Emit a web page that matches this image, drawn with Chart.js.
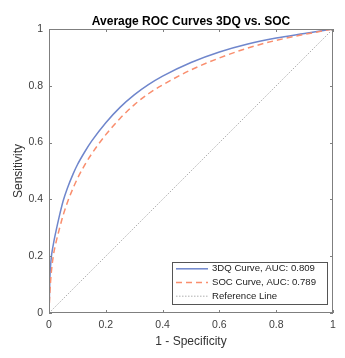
<!DOCTYPE html>
<html>
<head>
<meta charset="utf-8">
<script src="https://cdn.jsdelivr.net/npm/chart.js@4.4.1/dist/chart.umd.min.js"></script>
<style>
  html, body { margin: 0; padding: 0; background: #fff; }
  canvas { display: block; }
</style>
</head>
<body>
<canvas id="rocChart" width="345" height="358"></canvas>
<script>
// valores (1 - especificidade / sensibilidade)
const fpr = [0, 0.003, 0.007, 0.015, 0.025, 0.035, 0.05, 0.065, 0.085, 0.1, 0.125, 0.15, 0.2, 0.25, 0.3, 0.35, 0.4, 0.5, 0.6, 0.7, 0.8, 0.9, 1];
const tpr3DQ = [0, 0.12, 0.185, 0.24, 0.29, 0.335, 0.395, 0.44, 0.49, 0.522, 0.566, 0.605, 0.67, 0.724, 0.768, 0.804, 0.834, 0.882, 0.919, 0.947, 0.968, 0.984, 1];
const tprSOC = [0, 0.07, 0.13, 0.2, 0.25, 0.29, 0.345, 0.39, 0.44, 0.473, 0.52, 0.56, 0.628, 0.685, 0.733, 0.772, 0.803, 0.856, 0.898, 0.933, 0.96, 0.981, 1];
const refX = [0, 1];
const refY = [0, 1];
const axisTicks = [0, 0.2, 0.4, 0.6, 0.8, 1];
const tickLabels = ["0", "0.2", "0.4", "0.6", "0.8", "1"];
const seriesLabels = ["3DQ Curve, AUC: 0.809", "SOC Curve, AUC: 0.789", "Reference Line"];

const FONT = "'Liberation Sans', Arial, Helvetica, sans-serif";

function toPoints(xs, ys) {
  return xs.map((x, i) => ({ x: x, y: ys[i] }));
}

// caixa do eixo estilo MATLAB, com ticks para dentro
const boxPlugin = {
  id: "axisBox",
  afterDatasetsDraw(chart) {
    const { ctx, chartArea: a, scales } = chart;
    ctx.save();
    ctx.strokeStyle = "#7f7f7f";
    ctx.lineWidth = 1;
    ctx.strokeRect(a.left + 0.5, a.top + 0.5, a.right - a.left - 1, a.bottom - a.top - 1);
    ctx.beginPath();
    axisTicks.forEach((v) => {
      const px = Math.round(scales.x.getPixelForValue(v)) + 0.5;
      ctx.moveTo(px, a.bottom);
      ctx.lineTo(px, a.bottom - 3);
      ctx.moveTo(px, a.top);
      ctx.lineTo(px, a.top + 3);
      const py = Math.round(scales.y.getPixelForValue(v)) + 0.5;
      ctx.moveTo(a.left, py);
      ctx.lineTo(a.left + 3, py);
      ctx.moveTo(a.right, py);
      ctx.lineTo(a.right - 3, py);
    });
    ctx.stroke();
    ctx.restore();
  },
};

// legenda no canto inferior direito, dentro do gráfico
const legendPlugin = {
  id: "legendBox",
  afterDraw(chart) {
    const { ctx, chartArea: a } = chart;
    const sets = chart.data.datasets;
    ctx.save();
    ctx.font = `9.6px ${FONT}`;
    const textW = Math.max(...sets.map((d) => ctx.measureText(d.label).width));
    const w = Math.round(40 + textW + 11);
    const h = 42;
    const left = Math.round(a.right - 6 - w);
    const top = Math.round(a.bottom - 9 - h);

    ctx.fillStyle = "#fff";
    ctx.fillRect(left, top, w, h);
    ctx.strokeStyle = "#555";
    ctx.lineWidth = 1;
    ctx.strokeRect(left + 0.5, top + 0.5, w, h);

    sets.forEach((d, i) => {
      const y = top + 6.8 + i * 13.7;
      ctx.strokeStyle = d.borderColor;
      ctx.lineWidth = d.borderWidth;
      ctx.setLineDash(d.borderDash || []);
      ctx.beginPath();
      ctx.moveTo(left + 4, y);
      ctx.lineTo(left + 36, y);
      ctx.stroke();
      ctx.setLineDash([]);
      ctx.fillStyle = "#222";
      ctx.textBaseline = "middle";
      ctx.textAlign = "left";
      ctx.fillText(d.label, left + 40, y);
    });
    ctx.restore();
  },
};

function tickText(value) {
  const i = axisTicks.indexOf(value);
  return i >= 0 ? tickLabels[i] : "";
}

const ctx = document.getElementById("rocChart");

new Chart(ctx, {
  type: "scatter",
  data: {
    datasets: [
      {
        label: seriesLabels[0],
        data: toPoints(fpr, tpr3DQ),
        showLine: true,
        borderColor: "#6f86cc",
        borderWidth: 1.5,
        pointRadius: 0,
        cubicInterpolationMode: "monotone",
        order: 2,
      },
      {
        label: seriesLabels[1],
        data: toPoints(fpr, tprSOC),
        showLine: true,
        borderColor: "#f98e6e",
        borderWidth: 1.5,
        borderDash: [6, 4],
        pointRadius: 0,
        cubicInterpolationMode: "monotone",
        order: 1,
      },
      {
        label: seriesLabels[2],
        data: toPoints(refX, refY),
        showLine: true,
        borderColor: "#9a9a9a",
        borderWidth: 0.8,
        borderDash: [1.5, 1.5],
        pointRadius: 0,
        order: 3,
      },
    ],
  },
  options: {
    responsive: false,
    animation: false,
    events: [],
    layout: {
      padding: { left: 0, right: 12, top: 0, bottom: 0 },
    },
    plugins: {
      legend: { display: false },
      tooltip: { enabled: false },
      title: {
        display: true,
        fullSize: false,
        text: "Average ROC Curves 3DQ vs. SOC",
        color: "#000",
        font: { family: FONT, size: 12, weight: "bold" },
        padding: { top: 14, bottom: 0.6 },
      },
    },
    scales: {
      x: {
        type: "linear",
        min: 0,
        max: 1,
        afterBuildTicks: (scale) => {
          scale.ticks = axisTicks.map((v) => ({ value: v }));
        },
        afterFit: (scale) => {
          scale.height = 45;
        },
        grid: { display: false, drawTicks: false },
        border: { display: false },
        ticks: {
          color: "#404040",
          font: { family: FONT, size: 10.5 },
          padding: 6,
          maxRotation: 0,
          callback: tickText,
        },
        title: {
          display: true,
          text: "1 - Specificity",
          color: "#333",
          font: { family: FONT, size: 12 },
          padding: { top: 0, bottom: 9.2 },
        },
      },
      y: {
        type: "linear",
        min: 0,
        max: 1,
        afterBuildTicks: (scale) => {
          scale.ticks = axisTicks.map((v) => ({ value: v }));
        },
        afterFit: (scale) => {
          scale.width = 49;
        },
        grid: { display: false, drawTicks: false },
        border: { display: false },
        ticks: {
          color: "#404040",
          font: { family: FONT, size: 10.5 },
          padding: 6,
          callback: tickText,
        },
        title: {
          display: true,
          text: "Sensitivity",
          color: "#333",
          font: { family: FONT, size: 12 },
          padding: { top: 11.5, bottom: 0 },
        },
      },
    },
  },
  plugins: [boxPlugin, legendPlugin],
});
</script>
</body>
</html>
